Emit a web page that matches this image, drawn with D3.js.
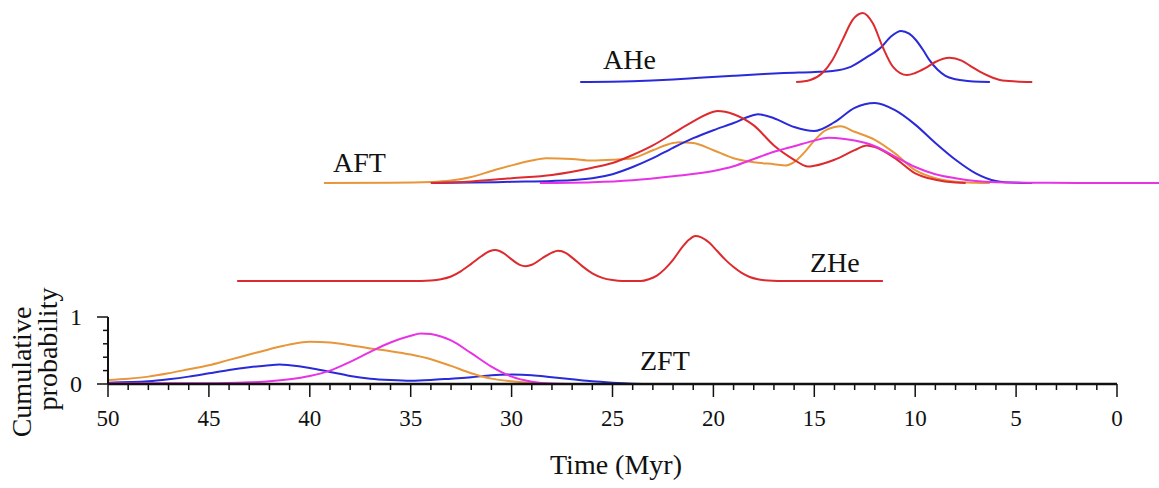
<!DOCTYPE html>
<html>
<head>
<meta charset="utf-8">
<script src="https://cdn.jsdelivr.net/npm/d3@7/dist/d3.min.js"></script>
<style>
  html, body { margin: 0; padding: 0; background: #fff; }
  svg text { font-family: "Liberation Serif", "Times New Roman", serif; fill: #111; }
</style>
</head>
<body>
<svg id="chart" width="1159" height="488"></svg>
<script>
// ---------------- DATA ----------------
const xTickValues = [50, 45, 40, 35, 30, 25, 20, 15, 10, 5, 0];
const yTickValues = [0, 1];
const panelNames = ["AHe", "AFT", "ZHe", "ZFT"];

// Each curve: [time (Myr), relative probability]
const aheBlue = [[26.6,0],[24,0.01],[22,0.035],[20.7,0.06],[19,0.09],[17.5,0.115],[16.5,0.13],[15,0.145],[14.1,0.16],[13.2,0.22],[12.4,0.36],[11.7,0.5],[11.2,0.66],[10.7,0.74],[10.3,0.7],[10,0.62],[9.6,0.46],[9.3,0.32],[8.9,0.18],[8.5,0.09],[8,0.04],[7.4,0.015],[6.8,0.003],[6.3,0]];
const aheRed = [[15.9,0],[15.2,0.03],[14.6,0.13],[14.1,0.32],[13.6,0.61],[13.1,0.9],[12.6,1.0],[12.1,0.85],[11.6,0.5],[11.1,0.22],[10.4,0.1],[10,0.13],[9.5,0.2],[9,0.29],[8.3,0.35],[7.7,0.31],[7.2,0.22],[6.8,0.15],[6.3,0.08],[5.8,0.03],[5,0.008],[4.2,0]];

const aftOrange = [[39.3,0],[36,0.003],[34,0.012],[33,0.03],[32,0.075],[31,0.15],[30,0.22],[29,0.28],[28.3,0.31],[27,0.3],[26,0.28],[25,0.29],[24,0.31],[23,0.41],[22,0.5],[21.7,0.51],[21,0.5],[20,0.41],[19,0.31],[18,0.26],[17,0.235],[16.4,0.22],[16,0.26],[15.5,0.38],[15,0.53],[14.5,0.65],[14,0.7],[13.7,0.71],[13,0.64],[12,0.54],[11,0.37],[10,0.16],[9,0.06],[8,0.015],[7,0.003],[6.3,0]];
const aftRed = [[34,0],[32,0.02],[30,0.06],[28,0.1],[26,0.19],[25,0.25],[24,0.35],[23,0.47],[22,0.62],[21,0.77],[20,0.89],[19.8,0.9],[19,0.86],[18,0.72],[17,0.47],[16,0.29],[15.6,0.23],[15.3,0.205],[15,0.215],[14,0.29],[13,0.41],[12.4,0.47],[12,0.45],[11,0.31],[10,0.12],[9,0.04],[8,0.005],[7.5,0]];
const aftBlue = [[34,0],[32,0.005],[30,0.015],[28,0.025],[26,0.06],[25,0.11],[24,0.2],[23,0.31],[22,0.44],[21,0.56],[20,0.66],[19,0.75],[18,0.85],[17.8,0.86],[17,0.81],[16,0.7],[15,0.65],[14,0.76],[13,0.94],[12,1.0],[11,0.91],[10,0.73],[9,0.5],[8,0.29],[7,0.12],[6,0.025],[5,0.003],[4.2,0]];
const aftMagenta = [[28.6,0],[26,0.01],[24,0.035],[22,0.085],[20,0.15],[19,0.21],[18,0.3],[17,0.39],[16,0.46],[15,0.53],[14.3,0.565],[13.5,0.55],[13,0.53],[12,0.46],[11,0.33],[10,0.2],[9,0.11],[8,0.06],[7,0.025],[6,0.01],[4,0.003],[2,0],[-2.1,0]];

const zheRed = [[43.6,0],[36,0],[34.5,0],[34,0.01],[33.5,0.04],[33,0.1],[32.5,0.22],[32,0.38],[31.5,0.55],[31.1,0.66],[30.8,0.69],[30.4,0.62],[30,0.48],[29.6,0.36],[29.3,0.33],[29,0.36],[28.5,0.5],[28,0.63],[27.7,0.67],[27.3,0.62],[27,0.52],[26.5,0.33],[26,0.17],[25.5,0.07],[25,0.02],[24.5,0],[23.6,0],[23.2,0.04],[22.8,0.12],[22.4,0.27],[22,0.47],[21.6,0.72],[21.2,0.92],[20.9,1.0],[20.6,0.97],[20.2,0.85],[19.8,0.66],[19.4,0.47],[19,0.31],[18.6,0.18],[18.2,0.09],[17.8,0.04],[17.3,0.01],[16.8,0],[11.6,0]];

const zftOrange = [[50,0.06],[49,0.08],[48,0.11],[47,0.16],[46,0.22],[45,0.28],[44,0.36],[43,0.44],[42,0.52],[41,0.59],[40,0.63],[39,0.62],[38,0.58],[37,0.53],[36,0.49],[35,0.44],[34,0.37],[33,0.27],[32,0.16],[31,0.08],[30,0.04],[29,0.015],[28.5,0]];
const zftMagenta = [[50,0.01],[45,0.01],[43,0.025],[42,0.04],[41,0.07],[40,0.12],[39,0.2],[38,0.33],[37,0.48],[36,0.62],[35,0.72],[34.5,0.755],[34,0.745],[33.5,0.71],[33,0.65],[32,0.46],[31,0.26],[30,0.11],[29,0.035],[28,0.006],[27,0]];
const zftBlue = [[50,0.02],[48,0.04],[47,0.07],[46,0.11],[45,0.16],[44,0.21],[43,0.25],[42,0.28],[41.5,0.29],[41,0.28],[40,0.24],[39,0.18],[38,0.12],[37,0.08],[36,0.06],[35,0.05],[34,0.06],[33,0.08],[32,0.1],[31,0.13],[30,0.14],[29,0.13],[28,0.1],[27,0.07],[26,0.04],[25,0.02],[24,0.005],[23.5,0]];

// ---------------- STYLE / LAYOUT ----------------
const colors = { red: "#dd2a2e", blue: "#2a2ad8", orange: "#e8963a", magenta: "#e833e4" };
const layout = {
  AHe: { base: 82,  top: 13,  label: [603, 69] },
  AFT: { base: 183, top: 103, label: [333, 172] },
  ZHe: { base: 281, top: 236, label: [810, 272] },
  ZFT: { base: 384, top: 317, label: [640, 370] }
};
const curves = [
  { panel: "AHe", data: aheBlue, color: colors.blue },
  { panel: "AHe", data: aheRed, color: colors.red },
  { panel: "AFT", data: aftOrange, color: colors.orange },
  { panel: "AFT", data: aftBlue, color: colors.blue },
  { panel: "AFT", data: aftRed, color: colors.red },
  { panel: "AFT", data: aftMagenta, color: colors.magenta },
  { panel: "ZHe", data: zheRed, color: colors.red },
  { panel: "ZFT", data: zftBlue, color: colors.blue },
  { panel: "ZFT", data: zftOrange, color: colors.orange },
  { panel: "ZFT", data: zftMagenta, color: colors.magenta }
];

const svg = d3.select("#chart");
const x = d3.scaleLinear().domain([50, 0]).range([108, 1117]);
const yScales = {};
panelNames.forEach(p => {
  yScales[p] = d3.scaleLinear().domain([0, 1]).range([layout[p].base, layout[p].top]);
});

// curves
curves.forEach(c => {
  const y = yScales[c.panel];
  const line = d3.line().x(d => x(d[0])).y(d => y(d[1])).curve(d3.curveMonotoneX);
  svg.append("path")
    .attr("d", line(c.data))
    .attr("fill", "none")
    .attr("stroke", c.color)
    .attr("stroke-width", 2)
    .attr("stroke-linejoin", "round");
});

// panel labels
panelNames.forEach(p => {
  svg.append("text")
    .attr("x", layout[p].label[0])
    .attr("y", layout[p].label[1])
    .attr("font-size", 28)
    .text(p);
});

// x axis
const xAxisG = svg.append("g").attr("transform", "translate(0,384)");
const minorTicks = d3.range(50, -1, -1);
xAxisG.selectAll("line.minor").data(minorTicks).enter().append("line")
  .attr("x1", d => x(d)).attr("x2", d => x(d))
  .attr("y1", 0).attr("y2", d => (d % 5 === 0 ? 13 : 6))
  .attr("stroke", "#111").attr("stroke-width", 1.5);
xAxisG.append("line")
  .attr("x1", x(50)).attr("x2", x(0)).attr("y1", 0).attr("y2", 0)
  .attr("stroke", "#111").attr("stroke-width", 2.5);
xAxisG.selectAll("text.tick").data(xTickValues).enter().append("text")
  .attr("x", d => x(d)).attr("y", 42)
  .attr("text-anchor", "middle").attr("font-size", 23)
  .text(d => d);
svg.append("text")
  .attr("x", 616).attr("y", 474)
  .attr("text-anchor", "middle").attr("font-size", 28)
  .text("Time (Myr)");

// y axis (ZFT cumulative probability)
const yZ = yScales.ZFT;
const yAxisG = svg.append("g");
yAxisG.append("line")
  .attr("x1", 108).attr("x2", 108).attr("y1", yZ(1)).attr("y2", yZ(0))
  .attr("stroke", "#111").attr("stroke-width", 2);
const yMinor = d3.range(0, 1.01, 0.2);
yAxisG.selectAll("line.yt").data(yMinor).enter().append("line")
  .attr("x1", d => (Math.abs(d) < 1e-6 || Math.abs(d - 1) < 1e-6) ? 97 : 103)
  .attr("x2", 108)
  .attr("y1", d => yZ(d)).attr("y2", d => yZ(d))
  .attr("stroke", "#111").attr("stroke-width", 1.5);
yAxisG.selectAll("text.yl").data(yTickValues).enter().append("text")
  .attr("x", 82).attr("y", d => yZ(d) + 8)
  .attr("text-anchor", "end").attr("font-size", 24)
  .text(d => d);

// y axis title (two lines, rotated)
svg.append("text")
  .attr("transform", "translate(31,372) rotate(-90)")
  .attr("text-anchor", "middle").attr("font-size", 28)
  .text("Cumulative");
svg.append("text")
  .attr("transform", "translate(57,349) rotate(-90)")
  .attr("text-anchor", "middle").attr("font-size", 28)
  .text("probability");
</script>
</body>
</html>
